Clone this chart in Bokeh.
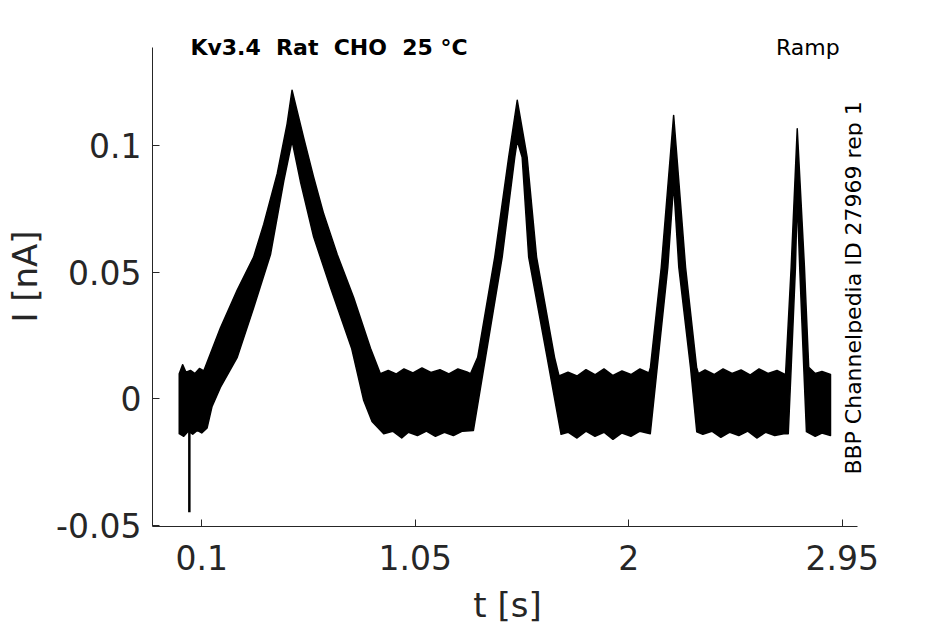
import math
from bokeh.plotting import figure
from bokeh.models import Range1d, FixedTicker, CustomJSTickFormatter, Label
from bokeh.embed import file_html
from bokeh.resources import INLINE

# Upper edge of the noisy current trace (t [s], I [nA])
t_upper = [0.000, 0.015, 0.030, 0.050, 0.070, 0.090, 0.109, 0.183, 0.258, 0.331,
           0.376, 0.436, 0.480, 0.502, 0.554, 0.598, 0.643, 0.703, 0.776, 0.851,
           0.895, 0.930, 0.965, 1.000, 1.040, 1.080, 1.120, 1.160, 1.200, 1.240,
           1.280, 1.296, 1.328, 1.404, 1.466, 1.504, 1.548, 1.590, 1.670, 1.690,
           1.730, 1.770, 1.810, 1.850, 1.890, 1.930, 1.970, 2.010, 2.050, 2.090,
           2.097, 2.145, 2.200, 2.253, 2.302, 2.310, 2.340, 2.380, 2.420, 2.460,
           2.500, 2.540, 2.580, 2.620, 2.660, 2.698, 2.723, 2.750, 2.782, 2.801,
           2.830, 2.860, 2.898]
i_upper = [0.0099, 0.0135, 0.0105, 0.0112, 0.0100, 0.0120, 0.0110, 0.028, 0.043, 0.056,
           0.069, 0.089, 0.1087, 0.122, 0.103, 0.0876, 0.073, 0.057, 0.040, 0.020,
           0.0099, 0.0112, 0.0098, 0.0118, 0.0102, 0.0122, 0.0104, 0.0115, 0.0098, 0.0118,
           0.0106, 0.0099, 0.0164, 0.056, 0.0955, 0.118, 0.0955, 0.056, 0.0164, 0.0090,
           0.0105, 0.0090, 0.0115, 0.0095, 0.0118, 0.0092, 0.0110, 0.0096, 0.0118, 0.0102,
           0.0125, 0.052, 0.112, 0.052, 0.0125, 0.0099, 0.0114, 0.0096, 0.0118, 0.0100,
           0.0114, 0.0094, 0.0118, 0.0100, 0.0112, 0.0095, 0.052, 0.1067, 0.052, 0.0125,
           0.0100, 0.0108, 0.0096]

# Lower edge of the noisy current trace
t_lower = [0.000, 0.020, 0.040, 0.060, 0.080, 0.100, 0.124, 0.146, 0.183, 0.258,
           0.331, 0.406, 0.465, 0.502, 0.539, 0.598, 0.673, 0.767, 0.821, 0.858,
           0.910, 0.950, 0.990, 1.020, 1.060, 1.100, 1.140, 1.180, 1.220, 1.260,
           1.309, 1.363, 1.437, 1.493, 1.504, 1.526, 1.555, 1.637, 1.699, 1.730,
           1.770, 1.810, 1.850, 1.890, 1.930, 1.970, 2.010, 2.050, 2.096, 2.127,
           2.174, 2.200, 2.223, 2.275, 2.303, 2.330, 2.370, 2.410, 2.450, 2.490,
           2.530, 2.570, 2.610, 2.650, 2.690, 2.710, 2.723, 2.742, 2.750, 2.761,
           2.779, 2.791, 2.830, 2.860, 2.898]
i_lower = [-0.0138, -0.0148, -0.0128, -0.0140, -0.0125, -0.0135, -0.0115, -0.0030, 0.0045, 0.0164,
           0.036, 0.057, 0.086, 0.102, 0.086, 0.064, 0.044, 0.020, -0.0007, -0.0090,
           -0.0138, -0.0128, -0.0155, -0.0132, -0.0145, -0.0128, -0.0148, -0.0132, -0.0145, -0.0128,
           -0.0125, 0.0164, 0.056, 0.0955, 0.102, 0.0955, 0.056, 0.0164, -0.0140, -0.0132,
           -0.0155, -0.0128, -0.0148, -0.0132, -0.0160, -0.0135, -0.0148, -0.0128, -0.0138, 0.0125,
           0.052, 0.085, 0.052, 0.0125, -0.0130, -0.0140, -0.0128, -0.0152, -0.0132, -0.0145,
           -0.0128, -0.0155, -0.0132, -0.0145, -0.0138, -0.0138, 0.0125, 0.052, 0.0797, 0.052,
           0.0125, -0.0130, -0.0148, -0.0135, -0.0145]

# Artefact spike near the start
spike_t = [0.045, 0.045]
spike_i = [-0.010, -0.0448]

x_ticks = [0.1, 1.05, 2, 2.95]
y_ticks = [-0.05, 0, 0.05, 0.1]

title_text = "Kv3.4\u00a0\u00a0Rat\u00a0\u00a0CHO\u00a0\u00a025\u00a0°C"
protocol_text = "Ramp"
side_text = "BBP Channelpedia ID 27969 rep 1"

FONT = "DejaVu Sans"
AX = "#262626"

p = figure(frame_width=710, frame_height=500,
           min_border_left=152, min_border_right=80,
           min_border_top=26, min_border_bottom=96,
           x_range=Range1d(-0.119, 3.0404), y_range=Range1d(-0.05047, 0.14715),
           output_backend="svg", toolbar_location=None)

p.patch(t_upper + t_lower[::-1], i_upper + i_lower[::-1],
        fill_color="black", line_color="black", line_width=1.5, line_join="round")
p.line(spike_t, spike_i, line_color="black", line_width=2.5)

p.xgrid.visible = False
p.ygrid.visible = False
p.outline_line_color = None
p.background_fill_color = "white"
p.border_fill_color = "white"

for ax in (p.xaxis[0], p.yaxis[0]):
    ax.axis_line_color = AX
    ax.axis_line_width = 1
    ax.major_tick_line_color = AX
    ax.major_tick_in = 7
    ax.major_tick_out = 0
    ax.minor_tick_line_color = None
    ax.major_label_text_font = FONT
    ax.major_label_text_font_size = "33px"
    ax.major_label_text_color = AX
    ax.axis_label_text_font = FONT
    ax.axis_label_text_font_size = "34px"
    ax.axis_label_text_font_style = "normal"
    ax.axis_label_text_color = AX
    ax.formatter = CustomJSTickFormatter(code="return String(tick);")

p.xaxis[0].ticker = FixedTicker(ticks=x_ticks)
p.yaxis[0].ticker = FixedTicker(ticks=y_ticks)
p.xaxis[0].bounds = (-0.119, 3.017)
p.yaxis[0].bounds = (-0.05047, 0.139)
p.xaxis[0].axis_label = "t [s]"
p.yaxis[0].axis_label = "I [nA]"
p.xaxis[0].major_label_standoff = 18
p.yaxis[0].major_label_standoff = 11
p.xaxis[0].axis_label_standoff = 12
p.yaxis[0].axis_label_standoff = 8

p.add_layout(Label(x=0.0497, y=0.139, text=title_text, text_font=FONT,
                   text_font_size="22px", text_font_style="bold", text_color="black",
                   text_align="left", text_baseline="alphabetic"))
p.add_layout(Label(x=2.939, y=0.139, text=protocol_text, text_font=FONT,
                   text_font_size="22px", text_color="black",
                   text_align="right", text_baseline="alphabetic"))
p.add_layout(Label(x=3.000, y=0.0438, text=side_text, text_font=FONT,
                   text_font_size="22px", text_color="black", angle=math.pi / 2,
                   text_align="center", text_baseline="alphabetic"))

open("out.html", "w").write(file_html(p, INLINE))
